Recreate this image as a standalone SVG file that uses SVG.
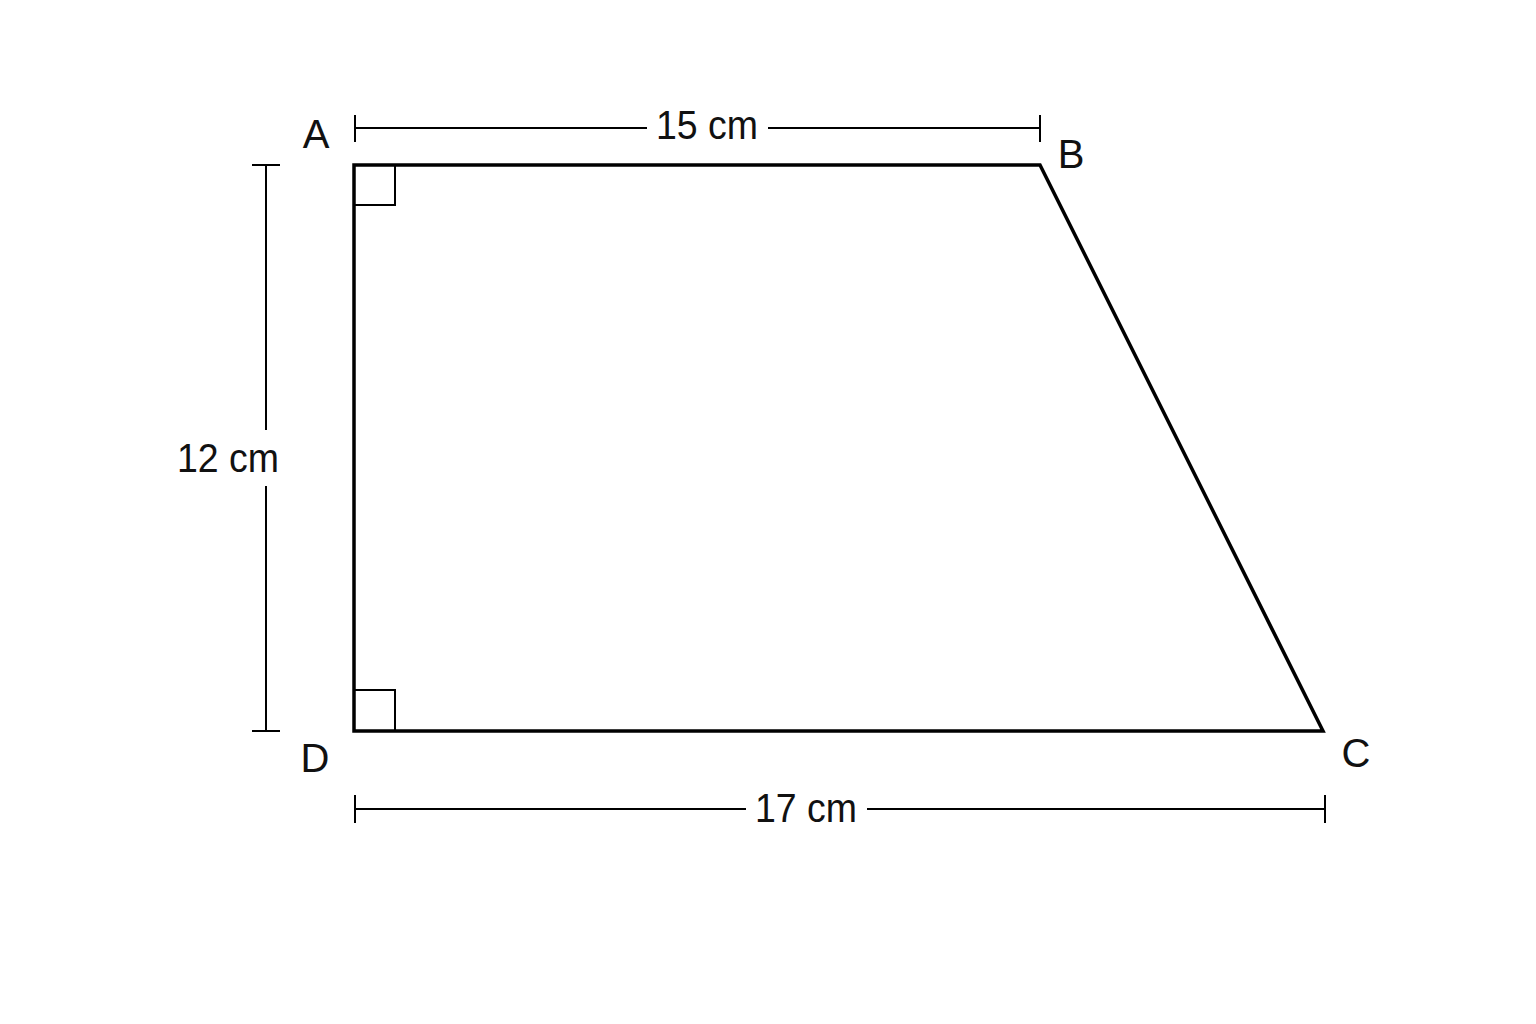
<svg xmlns="http://www.w3.org/2000/svg" width="1536" height="1024" viewBox="0 0 1536 1024">
<style>
.shape{fill:none;stroke:#000;stroke-width:3.5;stroke-linejoin:miter}
.mark{fill:none;stroke:#000;stroke-width:2}
.dim{fill:none;stroke:#000;stroke-width:2}
text{font-family:"Liberation Sans",Arial,sans-serif;font-size:40px;fill:#111;text-anchor:middle}
</style>
<rect width="1536" height="1024" fill="#fff"/>
<g id="trapezoid">
<polygon class="shape" points="354,165 1040,165 1323,731 354,731"/>
<rect class="mark" x="354" y="165" width="41" height="40"/>
<rect class="mark" x="354" y="690" width="41" height="41"/>
</g>
<g id="connectors">
<g id="dim-top">
<line class="dim" x1="355" y1="128" x2="647" y2="128"/>
<line class="dim" x1="768" y1="128" x2="1040" y2="128"/>
<line class="dim" x1="355" y1="115" x2="355" y2="142"/>
<line class="dim" x1="1040" y1="115" x2="1040" y2="142"/>
</g>
<g id="dim-left">
<line class="dim" x1="266" y1="165" x2="266" y2="430"/>
<line class="dim" x1="266" y1="486" x2="266" y2="731"/>
<line class="dim" x1="252" y1="165" x2="280" y2="165"/>
<line class="dim" x1="252" y1="731" x2="280" y2="731"/>
</g>
<g id="dim-bottom">
<line class="dim" x1="355" y1="809" x2="746" y2="809"/>
<line class="dim" x1="867" y1="809" x2="1325" y2="809"/>
<line class="dim" x1="355" y1="795" x2="355" y2="823"/>
<line class="dim" x1="1325" y1="795" x2="1325" y2="823"/>
</g>
</g>
<g id="labels">
<text x="316" y="148">A</text>
<text x="1071" y="168">B</text>
<text x="1356" y="767">C</text>
<text x="315" y="772">D</text>
<text x="707" y="139" textLength="102" lengthAdjust="spacingAndGlyphs">15 cm</text>
<text x="228" y="472" textLength="102" lengthAdjust="spacingAndGlyphs">12 cm</text>
<text x="806" y="822" textLength="102" lengthAdjust="spacingAndGlyphs">17 cm</text>
</g>
</svg>
